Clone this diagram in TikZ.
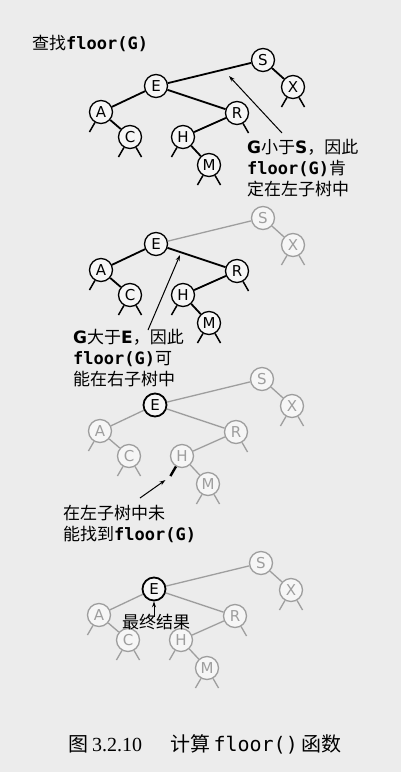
\documentclass[tikz,border=0pt]{standalone}
\usepackage{fontspec}
\setmainfont{DejaVu Sans}
\setmonofont{DejaVu Sans Mono}
\newfontfamily\cjk{Noto Sans CJK SC}
\newfontfamily\capnum{Liberation Serif}
\usetikzlibrary{arrows.meta}

\definecolor{paper}{gray}{0.925}
\definecolor{keyfill}{gray}{0.965}
\definecolor{faded}{gray}{0.62}

\newcommand{\code}[1]{{\ttfamily\bfseries #1}}
\newcommand{\lat}[1]{{\rmfamily\bfseries #1}}

\tikzset{
	key/.style={circle, draw, fill=keyfill, minimum size=23pt, inner sep=0pt, line width=1.3pt, font=\fontsize{15}{15}\selectfont},
	link/.style={line width=1.8pt},
	nil/.style={line width=1.5pt},
	faint/.style={draw=faded, text=faded, line width=1.3pt},
	note/.style={font=\cjk\fontsize{17}{21}\selectfont, align=left, inner sep=0pt},
	pointer/.style={->, line width=1pt},
	partS/.style={}, partE/.style={}, partSub/.style={},
}

% one copy of the tree, #1 is the suffix of the node names
\newcommand{\floortree}[1]{%
	\node[key, partS]	(S#1) at (263,-60)  {S};
	\node[key, partS]	(X#1) at (293,-87)  {X};
	\node[key, partE]	(E#1) at (156,-86)  {E};
	\node[key, partSub]	(A#1) at (101,-112) {A};
	\node[key, partSub]	(C#1) at (130,-137) {C};
	\node[key, partSub]	(R#1) at (237,-113) {R};
	\node[key, partSub]	(H#1) at (183,-137) {H};
	\node[key, partSub]	(M#1) at (209,-165) {M};
	\draw[link, partS]	(S#1) -- (E#1) (S#1) -- (X#1);
	\draw[link, partSub]	(E#1) -- (A#1) (E#1) -- (R#1) (A#1) -- (C#1) (R#1) -- (H#1) (H#1) -- (M#1);
	\foreach \a in {-120,-60}
		\draw[nil, partS] (X#1.\a) -- ++(\a:11pt);
	\foreach \n/\a in {A/-120, C/-120, C/-60, H/-120, M/-120, M/-60, R/-60}
		\draw[nil, partSub] (\n#1.\a) -- ++(\a:11pt);
}

\begin{document}
\begin{tikzpicture}[x=1pt, y=1pt, >={Stealth[length=6pt,width=4pt]}]
	\useasboundingbox (0,0) rectangle (401,-772);
	\fill[paper] (0,0) rectangle (401,-772);

	\node[note, anchor=west] (title) at (32,-43) {查找\code{floor(G)}};

	% search starts at S
	\begin{scope}
		\floortree{1}
	\end{scope}
	\node[note, anchor=north west] (note1) at (247,-139) {\lat{G}小于\lat{S}，因此\\\code{floor(G)}肯\\定在左子树中};
	\coordinate (hint1) at (229,-76);
	\draw[pointer] ([shift={(35pt,6pt)}]note1.north west) -- (hint1);

	% go right of E
	\begin{scope}[yshift=-158pt, partS/.style={faint}]
		\floortree{2}
	\end{scope}
	\node[note, anchor=north west] (note2) at (73,-329) {\lat{G}大于\lat{E}，因此\\\code{floor(G)}可\\能在右子树中};
	\coordinate (hint2) at (180,-255);
	\draw[pointer] ([shift={(75pt,-1pt)}]note2.north west) -- (hint2);

	% nothing found under H
	\begin{scope}[xshift=-1pt, yshift=-319pt, partS/.style={faint}, partSub/.style={faint}, partE/.style={line width=1.8pt}]
		\floortree{3}
	\end{scope}
	\draw[line width=2.4pt] (H3.-120) -- ++(-120:11pt) coordinate (miss3);
	\node[note, anchor=north west] (note3) at (63,-505) {在左子树中未\\能找到\code{floor(G)}};
	\draw[pointer] ([shift={(77pt,7pt)}]note3.north west) -- ([shift={(-5pt,-4pt)}]miss3);

	% result
	\begin{scope}[xshift=-2pt, yshift=-503pt, partS/.style={faint}, partSub/.style={faint}, partE/.style={line width=1.8pt}]
		\floortree{4}
	\end{scope}
	\node[note] (note4) at (156,-622) {最终结果};
	\draw[pointer] ([xshift=-2pt, yshift=-3pt]note4.north) -- (E4.south);

	\node[font=\cjk\fontsize{20}{20}\selectfont] (caption) at (205,-744)
		{图\,{\capnum 3.2.10}\hspace{1.4em}计算\,{\ttfamily floor()}\,函数};
\end{tikzpicture}
\end{document}
